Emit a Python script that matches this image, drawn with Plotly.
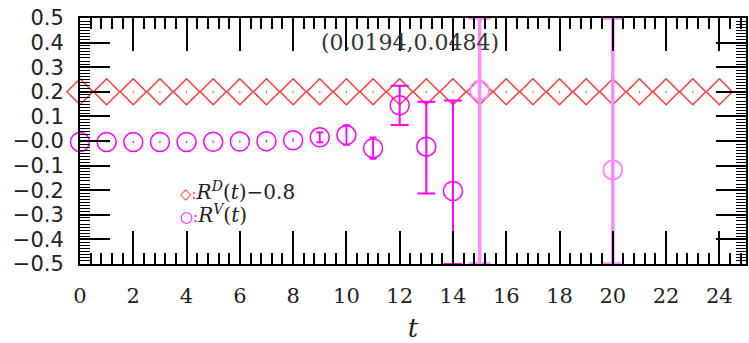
import plotly.graph_objects as go

# R^D(t): plotted shifted down by 0.8
rd_t = list(range(0, 25))
rd_val = [1.0] * 25
rd_err = [0.004] * 25
rd_shift = 0.8

# R^V(t): well-determined points
rv_t = [0, 1, 2, 3, 4, 5, 6, 7, 8, 9, 10, 11, 12, 13, 14]
rv_val = [-0.004, -0.004, -0.004, -0.004, -0.004, -0.003, -0.002, -0.001, 0.003,
          0.015, 0.024, -0.029, 0.145, -0.023, -0.203]
rv_err_up = [0.004, 0.004, 0.004, 0.004, 0.004, 0.004, 0.004, 0.005, 0.008,
             0.02, 0.04, 0.044, 0.08, 0.183, 0.368]
rv_err_dn = [0.004, 0.004, 0.004, 0.004, 0.004, 0.004, 0.004, 0.005, 0.008,
             0.02, 0.04, 0.044, 0.08, 0.19, 0.297]

# R^V(t): noisy points whose bars run past the frame
rv_noisy_t = [15, 20]
rv_noisy_val = [0.205, -0.118]
rv_noisy_up = [0.295, 0.618]
rv_noisy_dn = [0.705, 0.382]

y_ticks = [0.5, 0.4, 0.3, 0.2, 0.1, 0.0, -0.1, -0.2, -0.3, -0.4, -0.5]
y_ticktext = ["0.5", "0.4", "0.3", "0.2", "0.1", "\u22120.0", "\u22120.1",
              "\u22120.2", "\u22120.3", "\u22120.4", "\u22120.5"]
x_ticks = list(range(0, 25, 2))
x_ticktext = [str(v) for v in x_ticks]

label_pt = (12.4, 0.4)
label_text = "(0.0194,0.0484)"

RED = "#ff3b3b"
MAG = "#ff00ff"
PINK = "#ff8cff"

fig = go.Figure()

fig.add_trace(go.Scatter(
    x=rd_t, y=[v - rd_shift for v in rd_val], mode="markers",
    marker=dict(symbol="diamond-open", size=20, color=RED, line=dict(width=1.5, color=RED)),
    error_y=dict(type="data", array=rd_err, color=RED, thickness=1, width=0),
    cliponaxis=False, showlegend=False,
))

fig.add_trace(go.Scatter(
    x=rv_noisy_t, y=rv_noisy_val, mode="markers",
    marker=dict(symbol="circle-open", size=19, color=PINK, line=dict(width=2, color=PINK)),
    error_y=dict(type="data", symmetric=False, array=rv_noisy_up, arrayminus=rv_noisy_dn,
                 color=PINK, thickness=3.5, width=11),
    cliponaxis=False, showlegend=False,
))

# cap width and bar thickness grow with the size of the error
groups = [(0, 9, 0, 1.2), (9, 12, 3.5, 1.8), (12, len(rv_t), 9, 2)]
for lo, hi, cap, thick in groups:
    fig.add_trace(go.Scatter(
        x=rv_t[lo:hi], y=rv_val[lo:hi], mode="markers",
        marker=dict(symbol="circle-open", size=19, color=MAG, line=dict(width=1.5, color=MAG)),
        error_y=dict(type="data", symmetric=False, array=rv_err_up[lo:hi],
                     arrayminus=rv_err_dn[lo:hi], color=MAG, thickness=thick, width=cap),
        cliponaxis=False, showlegend=False,
    ))

fig.add_annotation(
    x=label_pt[0], y=label_pt[1], xref="x", yref="y", text=label_text,
    showarrow=False, xanchor="center", yanchor="middle",
    font=dict(family="DejaVu Serif", size=22, color="#333333"),
)

legend_rows = [
    (-0.202, RED, "\u25c7", "<i>R</i><sup><i>D</i></sup>(<i>t</i>)\u22120.8"),
    (-0.298, MAG, "\u25cb", "<i>R</i><sup><i>V</i></sup>(<i>t</i>)"),
]
for y, col, sym, txt in legend_rows:
    fig.add_annotation(
        x=3.68, y=y, xref="x", yref="y",
        text=f"<span style='color:{col};font-size:15px'>{sym}:</span>{txt}",
        showarrow=False, xanchor="left", yanchor="middle",
        font=dict(family="DejaVu Serif", size=20, color="#222222"),
    )

fig.update_xaxes(
    range=[0, 25], showline=True, linecolor="black", linewidth=2, mirror="ticks",
    ticks="inside", ticklen=33, tickwidth=1.5, tickcolor="black",
    tickvals=x_ticks, ticktext=x_ticktext, ticklabelstandoff=12,
    minor=dict(dtick=0.4, tick0=0, ticks="inside", ticklen=11, tickwidth=1.5, tickcolor="black"),
    showgrid=False, zeroline=False,
    tickfont=dict(family="DejaVu Serif", size=21, color="#222222"),
    title=dict(text="<i>t</i>", font=dict(family="DejaVu Serif", size=26, color="#222222"),
               standoff=16),
)
fig.update_yaxes(
    range=[-0.5, 0.5], showline=True, linecolor="black", linewidth=2, mirror="ticks",
    ticks="inside", ticklen=30, tickwidth=1.5, tickcolor="black",
    tickvals=y_ticks, ticktext=y_ticktext, ticklabelstandoff=10,
    minor=dict(dtick=0.0125, tick0=0, ticks="inside", ticklen=10, tickwidth=1.2, tickcolor="black"),
    showgrid=False, zeroline=False,
    tickfont=dict(family="DejaVu Sans", size=21, color="#222222"),
)

fig.update_layout(
    width=749, height=343,
    margin=dict(l=80, r=1, t=18, b=75),
    plot_bgcolor="white", paper_bgcolor="white",
)

fig.write_html("out.html")
